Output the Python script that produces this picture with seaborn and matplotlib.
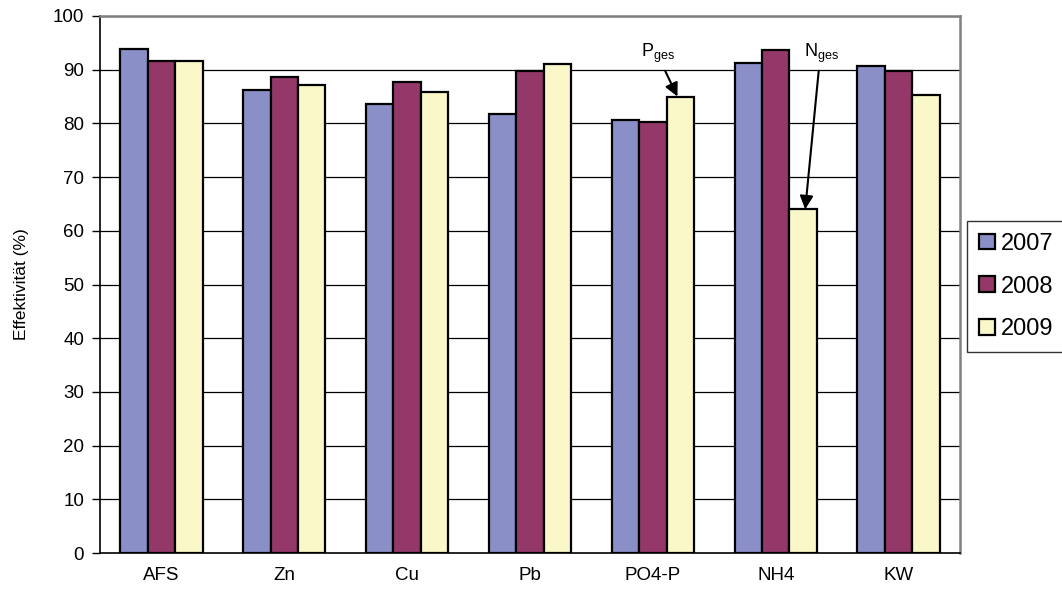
import matplotlib
matplotlib.use("Agg")
import matplotlib.pyplot as plt
import seaborn as sns
import pandas as pd
from matplotlib.ticker import FixedLocator

# Parameters and yearly removal efficiency (%)
categories = ["AFS", "Zn", "Cu", "Pb", "PO4-P", "NH4", "KW"]
years = ["2007", "2008", "2009"]
eff_2007 = [93.8, 86.2, 83.6, 81.8, 80.6, 91.2, 90.6]
eff_2008 = [91.7, 88.6, 87.8, 89.8, 80.3, 93.6, 89.8]
eff_2009 = [91.6, 87.2, 85.9, 91.0, 85.0, 64.0, 85.3]
yticks = [0, 10, 20, 30, 40, 50, 60, 70, 80, 90, 100]
colors = ["#8B8FC7", "#94386A", "#FAF8C8"]

rows = []
for year, vals in zip(years, [eff_2007, eff_2008, eff_2009]):
    for cat, v in zip(categories, vals):
        rows.append({"Parameter": cat, "Jahr": year, "Effektivität": v})
df = pd.DataFrame(rows)

sns.set_theme(style="white")
plt.rcParams["font.family"] = ["Liberation Sans", "DejaVu Sans"]
for key in ["text.color", "axes.labelcolor", "xtick.color", "ytick.color"]:
    plt.rcParams[key] = "black"

fig = plt.figure(figsize=(10.62, 5.97), dpi=100)
ax = fig.add_axes([100 / 1062, 1 - 553 / 597, 860 / 1062, 537 / 597])

for y in yticks[1:]:
    ax.axhline(y, color="#000000", lw=0.9, zorder=0)

sns.barplot(data=df, x="Parameter", y="Effektivität", hue="Jahr",
            order=categories, hue_order=years, palette=colors,
            width=0.67, edgecolor="black", linewidth=1.6, saturation=1,
            ax=ax, zorder=2)

ax.set_ylim(0, 100)
ax.set_xlim(-0.5, len(categories) - 0.5)
ax.set_yticks(yticks)
ax.set_xticks(range(len(categories)))
ax.set_xticklabels(categories)
ax.xaxis.set_minor_locator(FixedLocator([i - 0.5 for i in range(len(categories) + 1)]))
ax.tick_params(axis="x", which="major", length=0, labelsize=13.5, pad=10)
ax.tick_params(axis="x", which="minor", length=5.5, width=1, color="black", direction="out")
ax.tick_params(axis="y", length=5.5, width=1, color="black", direction="out",
               labelsize=13.5, left=True, pad=6)
ax.set_xlabel("")
ax.set_ylabel("Effektivität (%)", fontsize=12.5)
ax.yaxis.set_label_coords(-0.082, 0.5)

for side in ["left", "bottom"]:
    ax.spines[side].set_color("black")
    ax.spines[side].set_linewidth(1.2)
for side in ["top", "right"]:
    ax.spines[side].set_color("#808080")
    ax.spines[side].set_linewidth(1.8)

# Annotations for total phosphorus and total nitrogen
arrow = dict(arrowstyle="-|>", color="black", lw=1.5, mutation_scale=20,
             shrinkA=0, shrinkB=0)
ax.annotate("", xy=(4.20, 85.0), xytext=(4.10, 89.8), arrowprops=arrow, zorder=5)
ax.text(4.04, 93.0, r"P$_{\mathregular{ges}}$", ha="center", va="center", fontsize=13)
ax.annotate("", xy=(5.24, 64.0), xytext=(5.35, 89.8), arrowprops=arrow, zorder=5)
ax.text(5.37, 93.0, r"N$_{\mathregular{ges}}$", ha="center", va="center", fontsize=13)

handles, labels = ax.get_legend_handles_labels()
leg = ax.legend(handles, labels, loc="upper left",
                bbox_to_anchor=(967 / 1062, 1 - 221 / 597),
                bbox_transform=fig.transFigure,
                frameon=True, fancybox=False, edgecolor="black", fontsize=17,
                handlelength=0.68, handleheight=0.66, handletextpad=0.25,
                labelspacing=0.88, borderpad=0.5, borderaxespad=0)
leg.get_frame().set_linewidth(1.0)

fig.savefig("out.png", dpi=100)
